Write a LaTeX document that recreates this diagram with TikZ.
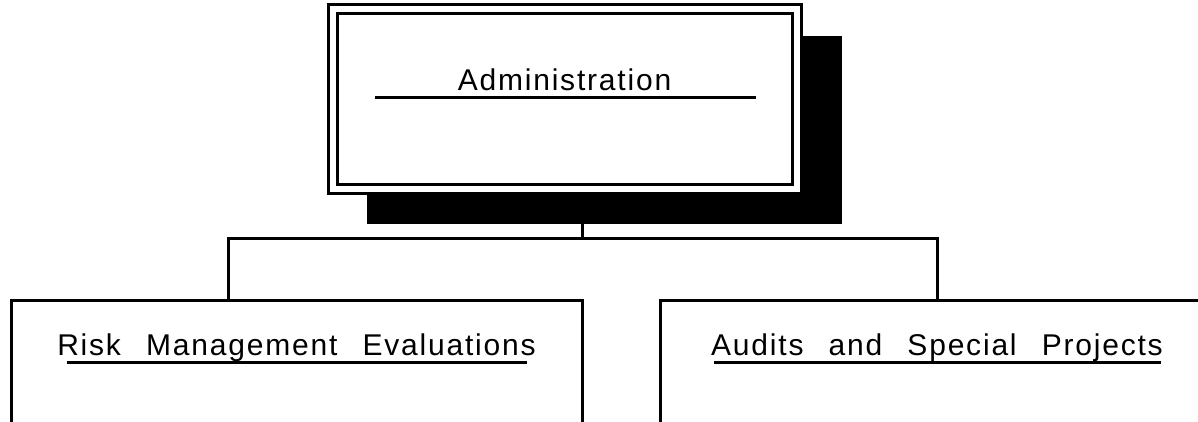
\documentclass[tikz,border=0pt]{standalone}
\usepackage{fontspec}
\setmainfont{Liberation Sans}
\newfontfamily\orgfont[LetterSpace=6]{Liberation Sans}
\newcommand\wordgap{\hspace{15pt}}
\usetikzlibrary{positioning}

\begin{document}
\begin{tikzpicture}[x=1pt,y=-1pt,line width=3pt,
    unitbox/.style={draw,inner sep=0pt,outer sep=0pt},
    unitname/.style={inner sep=0pt,anchor=base,font=\orgfont\fontsize{30}{36}\selectfont}]
          \clip (0,0) rectangle (1198,422);
          % shadow behind the top box
          \fill (367,36) rectangle (842,224);
          \node[unitbox,double,double distance=6pt,fill=white,minimum width=464.5pt,minimum height=179pt] (admin) at (564.75,99) {};
          \node[unitbox,minimum width=571pt,minimum height=200pt] (riskbox) at (296.5,400) {};
          \node[unitbox,minimum width=640pt,minimum height=200pt] (auditbox) at (980,400) {};
          \node[unitname] (admintext) at (564.5,91) {Administration};
          \node[unitname] (risktext) at (296.5,355) {Risk\wordgap{} Management\wordgap{} Evaluations};
          \node[unitname] (audittext) at (937,355) {Audits\wordgap{} and\wordgap{} Special\wordgap{} Projects};
          \draw (375,98) -- (756,98);
          \draw (67,362) -- (527,362);
          \draw (714,362) -- (1161,362);
          \coordinate (bus) at (582,238);
          \coordinate (lj) at (228,238);
          \coordinate (rj) at (937,238);
          \draw[shorten <=8pt] (admin.south -| bus) -- (bus);
          \draw (lj |- riskbox.north) -- (lj) -- (rj) -- (rj |- auditbox.north);
        \end{tikzpicture}
\end{document}
